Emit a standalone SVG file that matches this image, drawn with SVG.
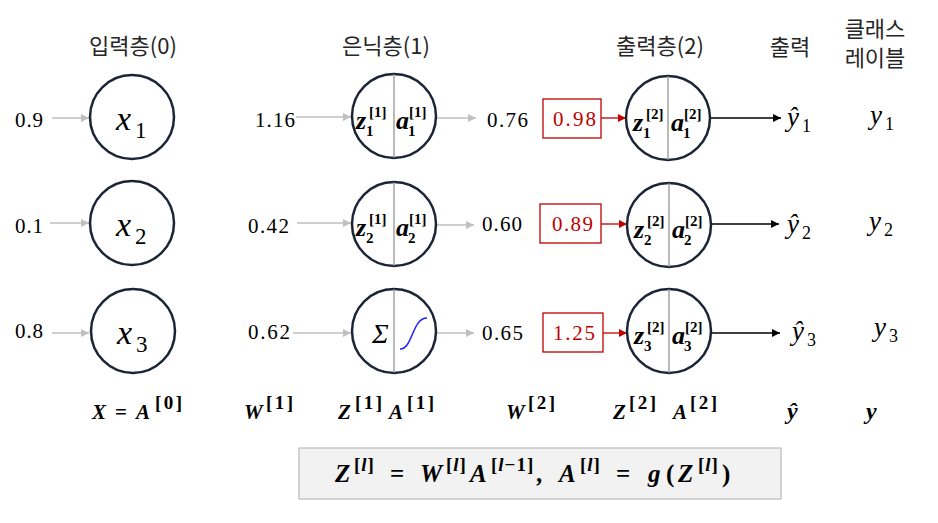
<svg xmlns="http://www.w3.org/2000/svg" width="938" height="523" viewBox="0 0 938 523">
<defs>
<style>
.node{fill:#fff;stroke:#1c2538;stroke-width:2.5}
.div{stroke:#8c8c8c;stroke-width:1.2}
.kr{font-family:"Noto Sans CJK KR","Noto Sans",sans-serif;font-size:22px;fill:#262626;text-anchor:middle}
text{font-family:"Liberation Serif",serif}
.num{font-size:21px;fill:#000}
.red{font-size:21px;fill:#c00000}
.mi{font-style:italic;fill:#000}
.bi{font-style:italic;font-weight:bold;fill:#000}
.b{font-style:normal;font-weight:bold;fill:#000}
.r{font-style:normal;fill:#000}
.sup{font-style:normal;font-weight:bold;fill:#000;font-size:19px;letter-spacing:2.5px}
.fs{font-style:normal;font-weight:bold;fill:#000;font-size:19px;letter-spacing:1px}
.ga{stroke:#bfbfbf;stroke-width:1.3;fill:none}
.ra{stroke:#c00000;stroke-width:1.3;fill:none}
.ka{stroke:#000;stroke-width:1.3;fill:none}
</style>
<marker id="mg" viewBox="0 0 10 10" refX="10" refY="5" markerWidth="10" markerHeight="8" markerUnits="userSpaceOnUse" orient="auto"><path d="M0,0L10,5L0,10z" fill="#bfbfbf"/></marker>
<marker id="mr" viewBox="0 0 10 10" refX="10" refY="5" markerWidth="10" markerHeight="8" markerUnits="userSpaceOnUse" orient="auto"><path d="M0,0L10,5L0,10z" fill="#c00000"/></marker>
<marker id="mk" viewBox="0 0 10 10" refX="10" refY="5" markerWidth="10" markerHeight="8" markerUnits="userSpaceOnUse" orient="auto"><path d="M0,0L10,5L0,10z" fill="#000"/></marker>
</defs>
<rect width="938" height="523" fill="#fff"/>

<g id="headers">
<text class="kr" x="133" y="54">입력층(0)</text>
<text class="kr" x="386" y="54">은닉층(1)</text>
<text class="kr" x="660" y="54">출력층(2)</text>
<text class="kr" x="790" y="55">출력</text>
<text class="kr" x="875" y="37" font-size="21">클래스</text>
<text class="kr" x="875" y="66" font-size="21">레이블</text>
</g>

<g id="connectors">
<line class="ga" x1="52" y1="118" x2="89" y2="118" marker-end="url(#mg)"/>
<line class="ga" x1="50" y1="223" x2="89" y2="223" marker-end="url(#mg)"/>
<line class="ga" x1="52" y1="333" x2="89" y2="333" marker-end="url(#mg)"/>
<line class="ga" x1="296" y1="117" x2="351" y2="117" marker-end="url(#mg)"/>
<line class="ga" x1="297" y1="223" x2="351" y2="223" marker-end="url(#mg)"/>
<line class="ga" x1="293" y1="333" x2="351" y2="333" marker-end="url(#mg)"/>
<line class="ga" x1="437" y1="118" x2="476" y2="118" marker-end="url(#mg)"/>
<line class="ga" x1="437" y1="225" x2="474" y2="225" marker-end="url(#mg)"/>
<line class="ga" x1="437" y1="333" x2="474" y2="333" marker-end="url(#mg)"/>
<line class="ra" x1="601" y1="118" x2="626" y2="118" marker-end="url(#mr)"/>
<line class="ra" x1="601" y1="224" x2="627" y2="224" marker-end="url(#mr)"/>
<line class="ra" x1="603" y1="333" x2="627" y2="333" marker-end="url(#mr)"/>
<line class="ka" x1="711" y1="118" x2="781" y2="118" marker-end="url(#mk)"/>
<line class="ka" x1="711" y1="224" x2="779" y2="224" marker-end="url(#mk)"/>
<line class="ka" x1="711" y1="333" x2="780" y2="333" marker-end="url(#mk)"/>
</g>

<g id="values">
<text class="num" x="15" y="127" textLength="28" lengthAdjust="spacing">0.9</text>
<text class="num" x="15" y="233" textLength="28" lengthAdjust="spacing">0.1</text>
<text class="num" x="15" y="338" textLength="28" lengthAdjust="spacing">0.8</text>
<text class="num" x="255" y="127" textLength="40" lengthAdjust="spacing">1.16</text>
<text class="num" x="248" y="233" textLength="41" lengthAdjust="spacing">0.42</text>
<text class="num" x="248" y="339" textLength="42" lengthAdjust="spacing">0.62</text>
<text class="num" x="487" y="127" textLength="41" lengthAdjust="spacing">0.76</text>
<text class="num" x="482" y="231" textLength="40" lengthAdjust="spacing">0.60</text>
<text class="num" x="482" y="340" textLength="41" lengthAdjust="spacing">0.65</text>
</g>

<g id="w2-1"><rect x="543" y="99" width="58" height="39" fill="#fff" stroke="#c00000" stroke-width="1.3"/><text class="red" x="553" y="126" textLength="43" lengthAdjust="spacing">0.98</text></g>
<g id="w2-2"><rect x="540" y="204" width="61" height="39" fill="#fff" stroke="#c00000" stroke-width="1.3"/><text class="red" x="552" y="231" textLength="41" lengthAdjust="spacing">0.89</text></g>
<g id="w2-3"><rect x="543" y="313" width="60" height="39" fill="#fff" stroke="#c00000" stroke-width="1.3"/><text class="red" x="553" y="340" textLength="42" lengthAdjust="spacing">1.25</text></g>

<g id="x1"><circle class="node" cx="132" cy="117" r="42"/><text class="mi" x="116" y="130" font-size="34">x</text><text class="r" x="135" y="138" font-size="23">1</text></g>
<g id="x2"><circle class="node" cx="132" cy="223" r="42"/><text class="mi" x="116" y="236" font-size="34">x</text><text class="r" x="135" y="244" font-size="23">2</text></g>
<g id="x3"><circle class="node" cx="133" cy="331" r="42"/><text class="mi" x="117" y="344" font-size="34">x</text><text class="r" x="136" y="352" font-size="23">3</text></g>

<g id="h1"><circle class="node" cx="394" cy="116" r="42"/><line class="div" x1="394" y1="74" x2="394" y2="158"/>
<text class="bi" x="356" y="129" font-size="26">z</text><text class="b" x="369" y="117" font-size="15">[1]</text><text class="b" x="366" y="136" font-size="15">1</text>
<text class="bi" x="396" y="129" font-size="26">a</text><text class="b" x="409" y="117" font-size="15">[1]</text><text class="b" x="408" y="136" font-size="15">1</text></g>
<g id="h2"><circle class="node" cx="394" cy="224" r="42"/><line class="div" x1="394" y1="182" x2="394" y2="266"/>
<text class="bi" x="356" y="236" font-size="26">z</text><text class="b" x="369" y="224" font-size="15">[1]</text><text class="b" x="366" y="243" font-size="15">2</text>
<text class="bi" x="396" y="236" font-size="26">a</text><text class="b" x="409" y="224" font-size="15">[1]</text><text class="b" x="408" y="243" font-size="15">2</text></g>
<g id="h3"><circle class="node" cx="394" cy="331" r="42"/><line class="div" x1="394" y1="289" x2="394" y2="373"/>
<text class="mi" x="372" y="343" font-size="28">Σ</text>
<path d="M400,349 C413,349 412,318 427,318" fill="none" stroke="#1f1fff" stroke-width="1.5"/></g>

<g id="o1"><circle class="node" cx="668" cy="118" r="42"/><line class="div" x1="668" y1="76" x2="668" y2="160"/>
<text class="bi" x="633" y="131" font-size="26">z</text><text class="b" x="646" y="119" font-size="15">[2]</text><text class="b" x="643" y="138" font-size="15">1</text>
<text class="bi" x="671" y="131" font-size="26">a</text><text class="b" x="684" y="119" font-size="15">[2]</text><text class="b" x="683" y="138" font-size="15">1</text></g>
<g id="o2"><circle class="node" cx="669" cy="225" r="42"/><line class="div" x1="669" y1="183" x2="669" y2="267"/>
<text class="bi" x="634" y="238" font-size="26">z</text><text class="b" x="647" y="226" font-size="15">[2]</text><text class="b" x="644" y="245" font-size="15">2</text>
<text class="bi" x="672" y="238" font-size="26">a</text><text class="b" x="685" y="226" font-size="15">[2]</text><text class="b" x="684" y="245" font-size="15">2</text></g>
<g id="o3"><circle class="node" cx="669" cy="331" r="42"/><line class="div" x1="669" y1="289" x2="669" y2="373"/>
<text class="bi" x="634" y="344" font-size="26">z</text><text class="b" x="647" y="332" font-size="15">[2]</text><text class="b" x="644" y="351" font-size="15">3</text>
<text class="bi" x="672" y="344" font-size="26">a</text><text class="b" x="685" y="332" font-size="15">[2]</text><text class="b" x="684" y="351" font-size="15">3</text></g>

<g id="outputs">
<text class="mi" x="787" y="126" font-size="27">ŷ</text><text class="r" x="802" y="132" font-size="18">1</text>
<text class="mi" x="787" y="233" font-size="27">ŷ</text><text class="r" x="802" y="239" font-size="18">2</text>
<text class="mi" x="792" y="340" font-size="27">ŷ</text><text class="r" x="807" y="346" font-size="18">3</text>
<text class="mi" x="870" y="124" font-size="27">y</text><text class="r" x="885" y="130" font-size="18">1</text>
<text class="mi" x="869" y="230" font-size="27">y</text><text class="r" x="884" y="236" font-size="18">2</text>
<text class="mi" x="874" y="336" font-size="27">y</text><text class="r" x="889" y="342" font-size="18">3</text>
</g>

<g id="matrices">
<text class="bi" x="92" y="419" font-size="21">X</text><text class="b" x="115" y="419" font-size="21">=</text><text class="bi" x="136" y="419" font-size="21">A</text><text class="sup" x="155" y="409">[0]</text>
<text class="bi" x="244" y="419" font-size="21">W</text><text class="sup" x="266" y="409">[1]</text>
<text class="bi" x="338" y="419" font-size="21">Z</text><text class="sup" x="355" y="409">[1]</text>
<text class="bi" x="389" y="419" font-size="21">A</text><text class="sup" x="407" y="409">[1]</text>
<text class="bi" x="506" y="419" font-size="21">W</text><text class="sup" x="528" y="409">[2]</text>
<text class="bi" x="613" y="419" font-size="21">Z</text><text class="sup" x="629" y="409">[2]</text>
<text class="bi" x="673" y="419" font-size="21">A</text><text class="sup" x="690" y="409">[2]</text>
<text class="bi" x="787" y="419" font-size="24">ŷ</text>
<text class="bi" x="866" y="419" font-size="24">y</text>
</g>

<g id="formula">
<rect x="299" y="448" width="482" height="51" fill="#f2f2f2" stroke="#bfbfbf" stroke-width="1.3"/>
<text class="bi" x="335" y="482" font-size="25">Z</text><text class="fs" x="354" y="471">[<tspan font-style="italic">l</tspan>]</text>
<text class="b" x="390" y="482" font-size="25">=</text>
<text class="bi" x="420" y="482" font-size="25">W</text><text class="fs" x="446" y="471">[<tspan font-style="italic">l</tspan>]</text>
<text class="bi" x="470" y="482" font-size="25">A</text><text class="fs" x="491" y="471">[<tspan font-style="italic">l</tspan>−1]</text>
<text class="bi" x="537" y="482" font-size="25">,</text>
<text class="bi" x="559" y="482" font-size="25">A</text><text class="fs" x="580" y="471">[<tspan font-style="italic">l</tspan>]</text>
<text class="b" x="616" y="482" font-size="25">=</text>
<text class="bi" x="648" y="482" font-size="25">g</text>
<text class="b" x="666" y="482" font-size="25">(</text>
<text class="bi" x="678" y="482" font-size="25">Z</text><text class="fs" x="698" y="471">[<tspan font-style="italic">l</tspan>]</text>
<text class="b" x="722" y="482" font-size="25">)</text>
</g>
</svg>
